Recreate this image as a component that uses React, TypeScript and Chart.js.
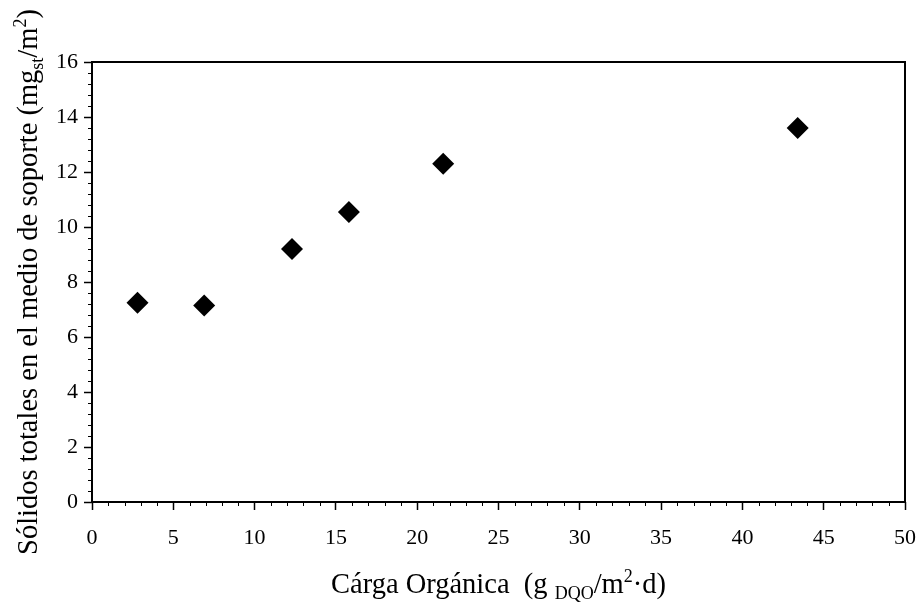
import React, { useEffect, useRef } from "react";
import { Chart, registerables } from "chart.js";

Chart.register(...registerables);

// ---- data ----
const cargaOrganica = [2.8, 6.9, 12.3, 15.8, 21.6, 43.4];
const solidosTotales = [7.25, 7.15, 9.2, 10.55, 12.3, 13.6];

// ---- axes ----
const X_MIN = 0;
const X_MAX = 50;
const X_MAJOR = 5;
const X_MINOR = 1;
const Y_MIN = 0;
const Y_MAX = 16;
const Y_MAJOR = 2;
const Y_MINOR = 0.4;

type Part = { t: string; k?: "sub" | "sup" };
const xTitleParts: Part[] = [
  { t: "Cárga Orgánica  (g " },
  { t: "DQO", k: "sub" },
  { t: "/m" },
  { t: "2", k: "sup" },
  { t: "·d" },
  { t: ")" },
];
const yTitleParts: Part[] = [
  { t: "Sólidos totales en el medio de soporte (mg" },
  { t: "st", k: "sub" },
  { t: "/m" },
  { t: "2", k: "sup" },
  { t: ")" },
];

const FONT = '"Liberation Serif", "Times New Roman", serif';
const TITLE_SIZE = 28.5;
const SMALL_SIZE = 18;

function partsWidth(ctx: CanvasRenderingContext2D, parts: Part[]) {
  let w = 0;
  for (const p of parts) {
    ctx.font = `${p.k ? SMALL_SIZE : TITLE_SIZE}px ${FONT}`;
    w += ctx.measureText(p.t).width;
  }
  return w;
}

function drawParts(ctx: CanvasRenderingContext2D, parts: Part[], x: number, y: number) {
  let cx = x;
  ctx.textBaseline = "alphabetic";
  ctx.textAlign = "left";
  for (const p of parts) {
    ctx.font = `${p.k ? SMALL_SIZE : TITLE_SIZE}px ${FONT}`;
    const dy = p.k === "sub" ? 6 : p.k === "sup" ? -11 : 0;
    ctx.fillText(p.t, cx, y + dy);
    cx += ctx.measureText(p.t).width;
  }
}

const decorPlugin = {
  id: "decor",
  afterDraw(chart: any) {
    const { ctx, chartArea: a, scales } = chart;
    const xs = scales.x;
    const ys = scales.y;
    ctx.save();
    ctx.strokeStyle = "#000";
    ctx.fillStyle = "#000";
    // minor ticks
    ctx.lineWidth = 1;
    ctx.beginPath();
    const nx = Math.round((X_MAX - X_MIN) / X_MINOR);
    for (let i = 0; i <= nx; i++) {
      const v = X_MIN + i * X_MINOR;
      if (Math.abs(v / X_MAJOR - Math.round(v / X_MAJOR)) < 1e-6) continue;
      const px = Math.round(xs.getPixelForValue(v)) + 0.5;
      ctx.moveTo(px, a.bottom);
      ctx.lineTo(px, a.bottom + 4);
    }
    const ny = Math.round((Y_MAX - Y_MIN) / Y_MINOR);
    for (let i = 0; i <= ny; i++) {
      const v = Y_MIN + i * Y_MINOR;
      if (Math.abs(v / Y_MAJOR - Math.round(v / Y_MAJOR)) < 1e-6) continue;
      const py = Math.round(ys.getPixelForValue(v)) + 0.5;
      ctx.moveTo(a.left, py);
      ctx.lineTo(a.left - 4, py);
    }
    ctx.stroke();
    // frame
    ctx.lineWidth = 2;
    ctx.strokeRect(a.left, a.top, a.right - a.left, a.bottom - a.top);

    // x title
    const cxMid = (a.left + a.right) / 2;
    const wx = partsWidth(ctx, xTitleParts);
    drawParts(ctx, xTitleParts, cxMid - wx / 2, 593);

    // y title (rotated)
    const cyMid = (a.top + a.bottom) / 2;
    const wy = partsWidth(ctx, yTitleParts);
    ctx.save();
    ctx.translate(37, cyMid);
    ctx.rotate(-Math.PI / 2);
    drawParts(ctx, yTitleParts, -wy / 2, 0);
    ctx.restore();
    ctx.restore();
  },
};

export default function App() {
  const ref = useRef<HTMLCanvasElement | null>(null);

  useEffect(() => {
    if (!ref.current) return;
    const data = cargaOrganica.map((x, i) => ({ x, y: solidosTotales[i] }));
    const chart = new Chart(ref.current, {
      type: "scatter",
      data: {
        datasets: [
          {
            data,
            pointStyle: "rectRot",
            pointRadius: 11,
            pointHoverRadius: 11,
            backgroundColor: "#000",
            borderColor: "#000",
            borderWidth: 0,
          },
        ],
      },
      options: {
        animation: false,
        responsive: false,
        events: [],
        layout: { padding: { left: 0, top: 62, right: 14, bottom: 0 } },
        plugins: { legend: { display: false }, tooltip: { enabled: false } },
        scales: {
          x: {
            type: "linear",
            min: X_MIN,
            max: X_MAX,
            afterFit: (s: any) => {
              s.height = 113;
              s.paddingLeft = 0;
              s.paddingRight = 0;
            },
            border: { display: false },
            grid: {
              drawOnChartArea: false,
              drawTicks: true,
              tickLength: 8,
              tickColor: "#000",
              tickWidth: 1.5,
            },
            ticks: {
              stepSize: X_MAJOR,
              autoSkip: false,
              maxRotation: 0,
              padding: 15,
              color: "#000",
              font: { family: FONT, size: 22 },
            },
          },
          y: {
            type: "linear",
            min: Y_MIN,
            max: Y_MAX,
            afterFit: (s: any) => {
              s.width = 92;
              s.paddingTop = 0;
              s.paddingBottom = 0;
            },
            border: { display: false },
            grid: {
              drawOnChartArea: false,
              drawTicks: true,
              tickLength: 8,
              tickColor: "#000",
              tickWidth: 1.5,
            },
            ticks: {
              stepSize: Y_MAJOR,
              autoSkip: false,
              padding: 6,
              color: "#000",
              font: { family: FONT, size: 22 },
            },
          },
        },
      },
      plugins: [decorPlugin],
    });
    return () => chart.destroy();
  }, []);

  return (
    <div style={{ position: "absolute", left: 0, top: 0, width: 919, height: 615, background: "#fff" }}>
      <canvas ref={ref} width={919} height={615} style={{ display: "block" }} />
    </div>
  );
}
